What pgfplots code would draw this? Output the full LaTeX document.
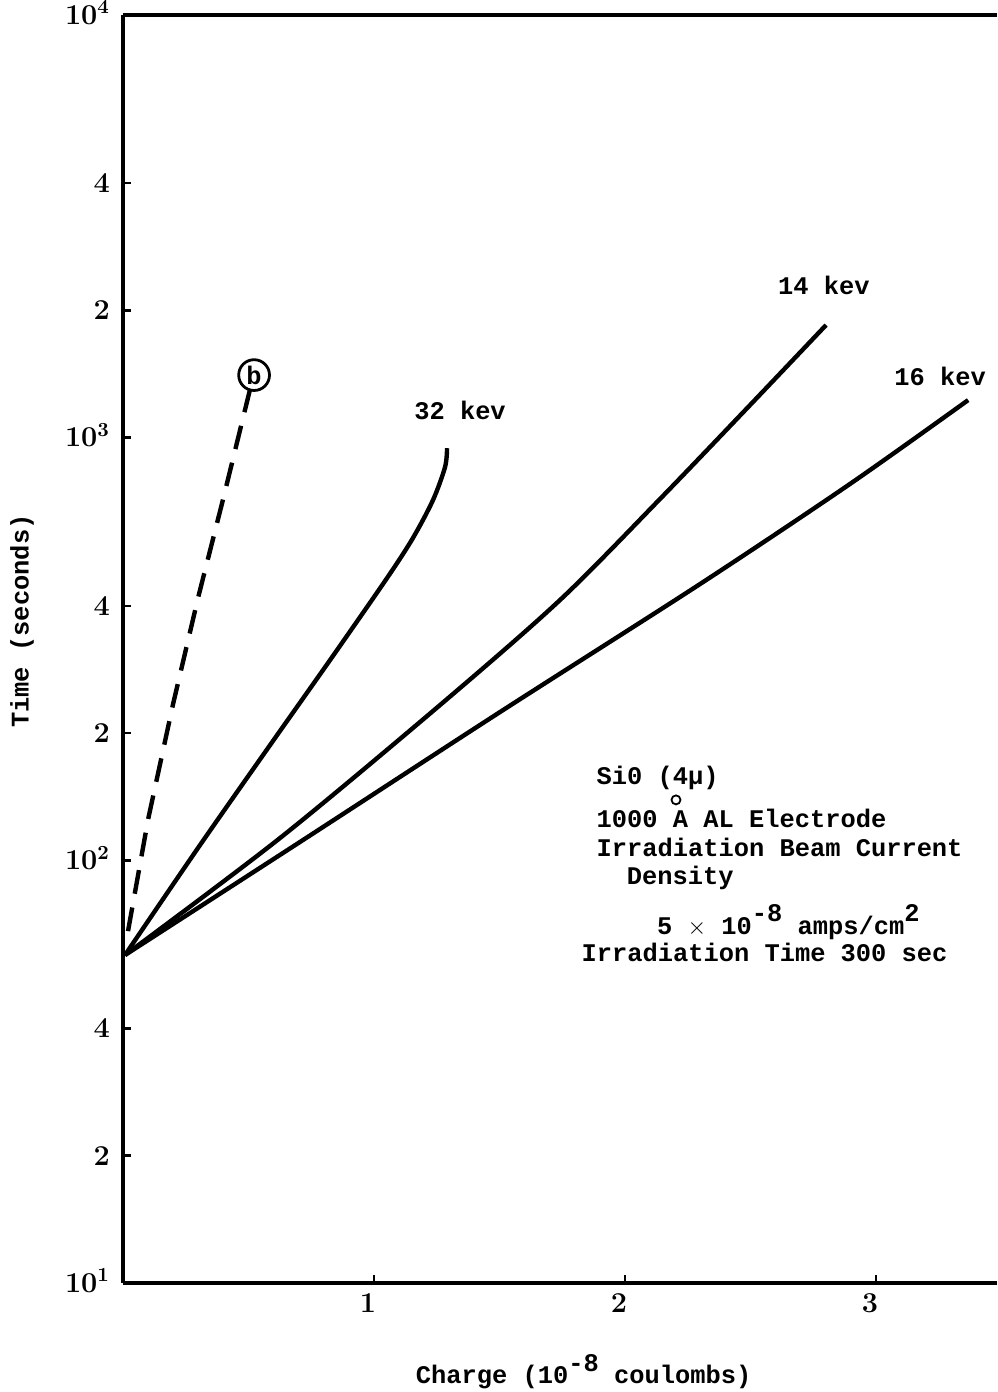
\documentclass[border=0pt]{standalone}
\usepackage{pgfplots}
\pgfplotsset{compat=1.18}
\usepackage{fontspec}
\setmainfont{Liberation Mono}[BoldFont={Liberation Mono Bold}]
\newcommand{\tw}{\fontsize{12.7}{14}\selectfont\bfseries}
\begin{document}
\begin{tikzpicture}
\begin{axis}[
  scale only axis,
  width=437pt, height=634pt,
  xmin=0, xmax=3.482,
  ymode=log, ymin=10, ymax=10000,
  axis x line=box, axis y line=left,
  axis line style={-, line width=2.2pt, black},
  xtick pos=bottom, ytick pos=left,
  xtick={1,2,3}, xticklabels={$1$,$2$,$3$},
  ytick={10,20,40,100,200,400,1000,2000,4000,10000},
  yticklabels={$10^{\smash{1}}$,$2$,$4$,$10^{\smash{2}}$,$2$,$4$,$10^{\smash{3}}$,$2$,$4$,$10^{\smash{4}}$},
  yminorticks=false, xminorticks=false,
  tick align=inside, major tick length=4pt,
  every tick/.style={black, line width=1.3pt},
  tick label style={font=\fontsize{14}{16}\selectfont\boldmath},
  xticklabel style={yshift=-2pt, xshift=-3pt},
  yticklabel style={xshift=-3pt},
  xlabel={\tw Charge (10\raisebox{0.5em}{-8} coulombs)},
  ylabel={\tw Time (seconds)},
  xlabel style={at={(axis description cs:0.527,-0.0795)}, anchor=base},
  ylabel style={at={(axis description cs:-0.1156,0.522)}, anchor=center},
  clip=false,
]
% dashed curve (b)
\addplot[black, line width=2.2pt, dash pattern=on 12pt off 7pt] coordinates {
  (0.02,68) (0.1,125) (0.2,235) (0.3,420) (0.4,720) (0.506,1300)
};
% 32 kev
\addplot[black, line width=2.2pt, smooth] coordinates {
  (0.008,59.7) (0.307,108.7) (0.586,187.4) (0.825,297.8) (1.052,465.5)
  (1.155,578.8) (1.235,711.8) (1.283,852) (1.291,944)
};
% 14 kev
\addplot[black, line width=2.2pt, smooth] coordinates {
  (0.008,59.7) (0.6255,112.9) (1.263,233.0) (1.741,412.9) (2.139,715.6)
  (2.498,1194) (2.801,1847)
};
% 16 kev
\addplot[black, line width=2.2pt, smooth] coordinates {
  (0.008,59.7) (0.705,110.5) (1.502,224.3) (2.299,450.5) (2.896,777) (3.367,1227)
};
\node[font=\tw] at (rel axis cs:0.3856,0.6885) {32 kev};
\node[font=\tw] at (rel axis cs:0.802,0.787) {14 kev};
\node[font=\tw] at (rel axis cs:0.935,0.7153) {16 kev};
\node[draw, circle, line width=1.4pt, inner sep=1.2pt, font=\tw] at (rel axis cs:0.150,0.716) {b};
\node[font=\tw, anchor=base west] at (rel axis cs:0.5339,0.3935) {Si0 (4μ)};
\node[draw, circle, line width=0.9pt, minimum size=4.5pt, inner sep=0pt] at (rel axis cs:0.6327,0.3810) {};
\node[font=\tw, anchor=base west] at (rel axis cs:0.5339,0.3596) {1000 A AL Electrode};
\node[font=\tw, anchor=base west] at (rel axis cs:0.5339,0.3367) {Irradiation Beam Current};
\node[font=\tw, anchor=base west] at (rel axis cs:0.5685,0.3139) {Density};
\node[font=\tw, anchor=base west] at (rel axis cs:0.603,0.2752) {5 $\times$ 10\raisebox{0.5em}{-8} amps/cm\raisebox{0.5em}{2}};
\node[font=\tw, anchor=base west] at (rel axis cs:0.5167,0.2532) {Irradiation Time 300 sec};
\coordinate (SW) at (rel axis cs:0,0);
\coordinate (NE) at (rel axis cs:1,1);
\end{axis}
\pgfresetboundingbox
\path ([xshift=-61.5pt,yshift=-54.5pt]SW) rectangle ([yshift=7.5pt]NE);
\end{tikzpicture}
\end{document}
